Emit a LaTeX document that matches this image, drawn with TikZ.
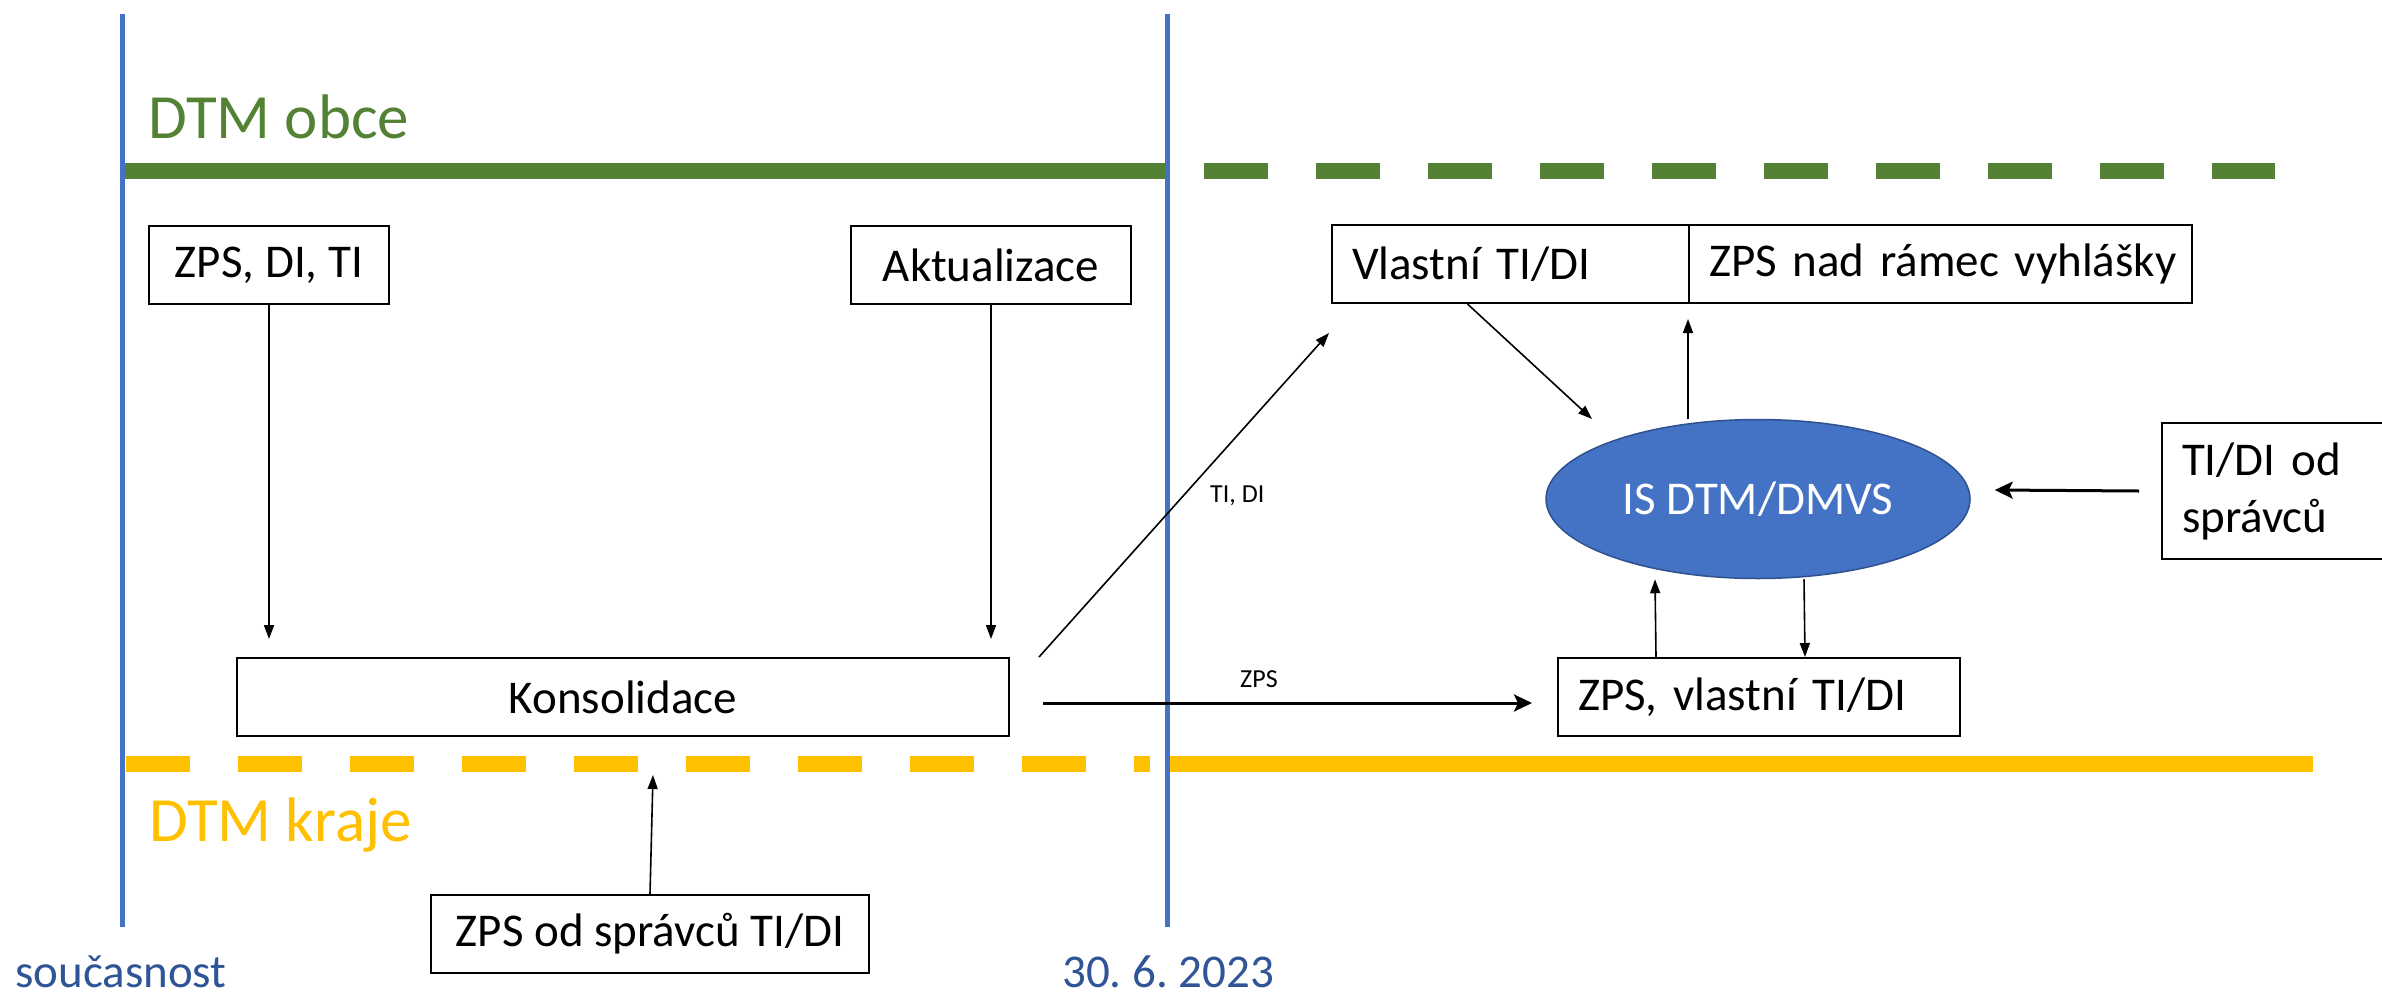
\documentclass[tikz,border=0pt]{standalone}
\usepackage{fontspec}
\setmainfont{Carlito}
\usetikzlibrary{shapes.geometric,arrows.meta}
\frenchspacing
\definecolor{lineblue}{HTML}{4472C4}
\definecolor{dgreen}{HTML}{548235}
\definecolor{gold}{HTML}{FFC000}
\definecolor{textblue}{HTML}{2F5597}
\definecolor{ellborder}{HTML}{2F528F}
\tikzset{
  boxbase/.style={draw=black, line width=2pt, fill=white, inner ysep=0pt, minimum height=78pt, font=\fontsize{47}{57}\selectfont, anchor=north west},
  boxc/.style={boxbase, inner xsep=0pt, align=center},
  boxl/.style={boxbase, inner xsep=20pt, align=left},
  lane/.style={line width=16pt},
  timeline/.style={lineblue, line width=5pt},
  arr/.style={-{Triangle[length=14pt,width=10pt]}, line width=1.6pt},
  arrb/.style={-{Stealth[length=18pt,width=17pt,inset=4pt]}, line width=3pt},
  lbl/.style={font=\fontsize{26}{30}\selectfont, inner sep=0pt, anchor=base west},
  title/.style={font=\fontsize{63}{75}\selectfont, inner sep=0pt, anchor=base west},
  datelbl/.style={font=\fontsize{47}{57}\selectfont, text=textblue, inner sep=0pt, anchor=base west}
}
\begin{document}
\begin{tikzpicture}[x=1pt,y=-1pt]
\useasboundingbox (0,0) rectangle (2382,996);
% lanes
\draw[lane, dgreen] (122,171) -- (1167,171);
\draw[lane, dgreen, dash pattern=on 64pt off 48pt] (1204,171) -- (2275,171);
\draw[lane, gold, dash pattern=on 64pt off 48pt] (126,763.5) -- (1150,763.5);
\draw[lane, gold] (1168,763.5) -- (2313,763.5);
% time lines
\draw[timeline] (122,14) -- (122,927);
\draw[timeline] (1167,14) -- (1167,927);
% titles
\node[title, text=dgreen] (obce) at (148,138) {DTM obce};
\node[title, text=gold] (kraje) at (149,841) {DTM kraje};
\node[datelbl] (now) at (15,987) {současnost};
\node[datelbl] (date) at (1062,987) {30. 6. 2023};
% boxes
\node[boxc, minimum width=240pt] (zpsdi) at (148,225) {ZPS, DI, TI};
\node[boxc, minimum width=280pt] (akt) at (850,225) {Aktualizace};
\node[boxl, text width=317pt] (vlastni) at (1331,224) {\mbox{Vlastní TI/DI}};
\node[boxl, text width=463pt] (nadramec) at (1688,224) {\mbox{ZPS nad rámec vyhlášky}};
\node[boxc, minimum width=772pt] (kons) at (236,657) {Konsolidace};
\node[boxl, text width=362pt] (zpsvl) at (1557,657) {\mbox{ZPS, vlastní TI/DI}};
\node[boxc, minimum width=438pt] (zpsod) at (430,894) {ZPS od správců TI/DI};
\node[boxl, text width=190pt, minimum height=136pt] (tidi) at (2161,422) {TI/DI od\\správců};
\node[ellipse, fill=lineblue, draw=ellborder, line width=1.5pt, minimum width=424pt, minimum height=159pt, inner sep=0pt, text=white, font=\fontsize{47}{57}\selectfont] (ell) at (1758,499) {IS DTM/DMVS};
% connectors
\draw[arr, shorten >=18pt] (zpsdi.south) -- (zpsdi.south |- kons.north);
\draw[arr, shorten >=18pt] (akt.south) -- (akt.south |- kons.north);
\draw[arr] ([xshift=29pt]kons.north east) -- ([xshift=-2pt,yshift=-29pt]vlastni.south west);
\draw[arrb] ([xshift=33pt,yshift=-6pt]kons.east) -- ([xshift=-25pt,yshift=-6pt]zpsvl.west);
\draw[arr] (zpsod.north) -- ([xshift=30pt,yshift=-38pt]kons.south);
\draw[arr] ([xshift=-43pt]vlastni.south) -- ([xshift=-166pt,yshift=80pt]ell.center);
\draw[arr] (ell.north -| nadramec.south west) -- ([yshift=-15pt]nadramec.south west);
\draw[arr] ([xshift=-103pt]zpsvl.north) -- ([xshift=-103pt]ell.south);
\draw[arr] ([xshift=46pt]ell.south) -- ([xshift=46pt]zpsvl.north);
\draw[arrb] ([xshift=-22pt]tidi.west) -- ([xshift=24pt,yshift=9pt]ell.east);
% labels
\node[lbl] (ltidi) at (1210,502) {TI, DI};
\node[lbl] (lzps) at (1240,687) {ZPS};
\end{tikzpicture}
\end{document}
